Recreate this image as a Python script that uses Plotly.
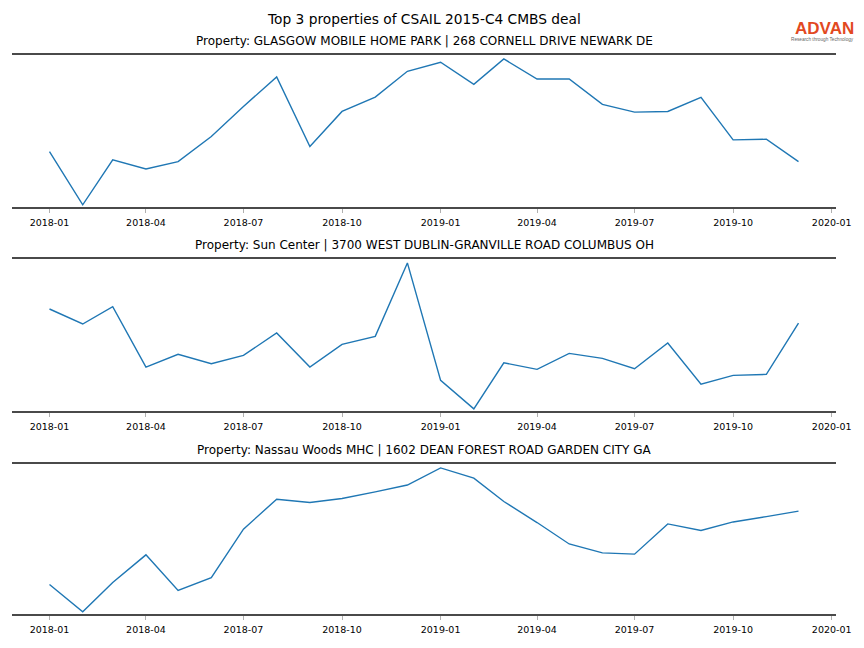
import plotly.graph_objects as go

months = [f"{y}-{m:02d}-01" for y in (2018, 2019) for m in range(1, 13)]

titles = [
    "Property: GLASGOW MOBILE HOME PARK | 268 CORNELL DRIVE NEWARK DE",
    "Property: Sun Center | 3700 WEST DUBLIN-GRANVILLE ROAD COLUMBUS OH",
    "Property: Nassau Woods MHC | 1602 DEAN FOREST ROAD GARDEN CITY GA",
]

glasgow = [56, 3, 47.7, 38.7, 46, 71, 101, 130.3, 61, 96, 110.3, 136,
           145, 123, 148.3, 128.3, 128.3, 103, 95.3, 96, 110, 67.7, 68.3, 46]
sun_center = [102, 87, 104.3, 44, 56.7, 47.3, 55.7, 78, 44, 66.7, 74.7, 148,
              30.7, 2.3, 48.3, 41.7, 57.7, 52.7, 42.3, 68, 27, 35.7, 36.7, 88]
nassau = [29, 1.3, 31, 59, 23, 36, 85, 115.3, 112, 116, 122.7, 129.7,
          147, 136.7, 113, 91.7, 70, 61, 59.7, 90.3, 83.7, 92.3, 97.7, 103.3]

series = [glasgow, sun_center, nassau]

tick_vals = ["2018-01-01", "2018-04-01", "2018-07-01", "2018-10-01", "2019-01-01",
             "2019-04-01", "2019-07-01", "2019-10-01", "2020-01-01"]
tick_text = ["2018-01", "2018-04", "2018-07", "2018-10", "2019-01",
             "2019-04", "2019-07", "2019-10", "2020-01"]

domains = [[0.7281, 1.0], [0.3631, 0.6351], [0.0, 0.2683]]

FONT = "DejaVu Sans"
fig = go.Figure()
layout = dict(
    width=848, height=632,
    margin=dict(l=4, r=20, t=47, b=26),
    paper_bgcolor="white", plot_bgcolor="white",
    showlegend=False,
    font=dict(family=FONT, color="black"),
    annotations=[],
)

for i, (vals, title) in enumerate(zip(series, titles)):
    n = "" if i == 0 else str(i + 1)
    fig.add_trace(go.Scatter(
        x=months, y=vals, mode="lines",
        line=dict(color="#1f77b4", width=1.4),
        xaxis="x" + n, yaxis="y" + n, hoverinfo="skip",
    ))
    lo, hi = min(vals), max(vals)
    span = hi - lo
    layout["xaxis" + n] = dict(
        domain=[0, 1], anchor="y" + n, type="date",
        range=["2017-11-27", "2020-01-05"],
        tickvals=tick_vals, ticktext=tick_text,
        ticks="outside", ticklen=4, tickwidth=1, tickcolor="#b0b0b0",
        ticklabelstandoff=2,
        tickfont=dict(size=9.5, family=FONT, color="black"),
        showline=True, mirror=True, linecolor="#4a4a4a", linewidth=2,
        showgrid=False, zeroline=False, fixedrange=True,
    )
    layout["yaxis" + n] = dict(
        domain=domains[i], anchor="x" + n,
        range=[lo - 0.015 * span, hi + 0.027 * span],
        visible=False, showgrid=False, zeroline=False, fixedrange=True,
    )
    layout["annotations"].append(dict(
        text=title, xref="paper", yref="paper", x=0.5, y=domains[i][1],
        xanchor="center", yanchor="bottom", yshift=5, showarrow=False,
        font=dict(size=12, family=FONT, color="black"),
    ))

layout["annotations"].append(dict(
    text="Top 3 properties of CSAIL 2015-C4 CMBS deal",
    xref="paper", yref="paper", x=0.5, y=1.0, yshift=26,
    xanchor="center", yanchor="bottom", showarrow=False,
    font=dict(size=13.75, family=FONT, color="black"),
))
layout["annotations"].append(dict(
    text="<b>ADVAN</b>", xref="paper", yref="paper", x=1.0, y=1.0,
    xshift=20, yshift=15, xanchor="right", yanchor="bottom", showarrow=False,
    font=dict(size=17, family="Liberation Sans", color="#E2491F"),
))
layout["annotations"].append(dict(
    text="Research through Technology", xref="paper", yref="paper", x=1.0, y=1.0,
    xshift=20, yshift=11, xanchor="right", yanchor="bottom", showarrow=False,
    font=dict(size=4.7, family="Liberation Sans", color="#666666"),
))

fig.update_layout(**layout)
fig.write_html("out.html")
